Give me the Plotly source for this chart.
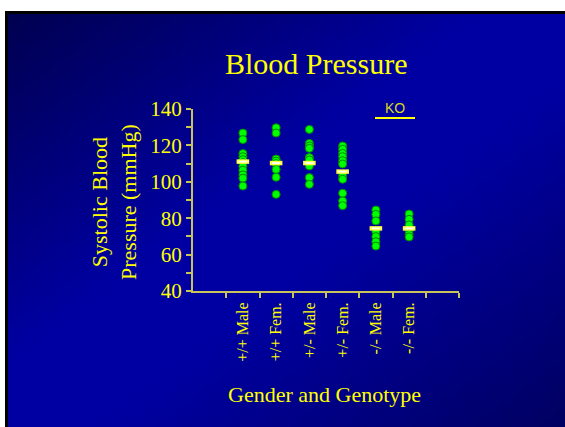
import base64
import struct
import zlib

import plotly.graph_objects as go

# ---- data -------------------------------------------------------------
groups = ["+/+ Male", "+/+ Fem.", "+/- Male", "+/- Fem.", "-/- Male", "-/- Fem."]

pp_male = [126.8, 123.2, 115.5, 113.8, 112.2, 110.5, 108.6, 106.4, 103.8, 102.0, 97.7]
pp_fem = [129.7, 126.8, 112.5, 111.4, 110.0, 106.8, 102.5, 93.1]
pm_male = [128.8, 121.1, 119.7, 118.4, 113.3, 112.0, 108.7, 102.3, 98.6]
pm_fem = [119.7, 117.9, 115.6, 113.8, 111.6, 109.8, 103.2, 101.4, 93.7, 89.5, 86.9]
mm_male = [84.5, 82.1, 78.5, 72.6, 69.9, 67.1, 64.7]
mm_fem = [82.3, 79.4, 76.3, 73.0, 71.1, 69.7]

group_means = [111.1, 110.3, 110.3, 105.6, 74.4, 74.4]

y_ticks = [40, 60, 80, 100, 120, 140]

series = [pp_male, pp_fem, pm_male, pm_fem, mm_male, mm_fem]

W, H = 565, 427
YELLOW = "#ffff00"
AXIS = "#c8c45a"


# ---- slide background: diagonal blue gradient as a small PNG ----------
def gradient_png(w, h):
    rows = []
    for j in range(h):
        v = j / (h - 1)
        row = bytearray([0])
        for i in range(w):
            u = i / (w - 1)
            t = (u + v) / 2
            if t < 0.5:
                b = 82 + (162 - 82) * min(1.0, t / 0.42)
            else:
                b = 98 + (162 - 98) * min(1.0, (1 - t) / 0.42)
            row += bytes([0, 0, int(round(b))])
        rows.append(bytes(row))
    raw = b"".join(rows)

    def chunk(tag, data):
        c = struct.pack(">I", len(data)) + tag + data
        return c + struct.pack(">I", zlib.crc32(tag + data) & 0xFFFFFFFF)

    png = b"\x89PNG\r\n\x1a\n"
    png += chunk(b"IHDR", struct.pack(">IIBBBBB", w, h, 8, 2, 0, 0, 0))
    png += chunk(b"IDAT", zlib.compress(raw, 9))
    png += chunk(b"IEND", b"")
    return "data:image/png;base64," + base64.b64encode(png).decode()


fig = go.Figure()

# individual measurements
for k, vals in enumerate(series):
    fig.add_trace(go.Scatter(
        x=[k + 1] * len(vals), y=vals, mode="markers",
        marker=dict(size=8, color="#00ff00", line=dict(color="#008a00", width=1)),
        showlegend=False, hoverinfo="y",
    ))

# group mean bars: yellow outline with white core
xs = list(range(1, len(groups) + 1))
fig.add_trace(go.Scatter(
    x=xs, y=group_means, mode="markers", showlegend=False,
    marker=dict(symbol="line-ew", size=9, line=dict(color="#ffff40", width=4.5)),
))
fig.add_trace(go.Scatter(
    x=xs, y=group_means, mode="markers", showlegend=False,
    marker=dict(symbol="line-ew", size=6, line=dict(color="#ffffff", width=1.8)),
))

x_left, x_right = 193, 459
y_top, y_bot = 109, 291

fig.update_layout(
    width=W, height=H,
    margin=dict(l=0, r=0, t=0, b=0),
    paper_bgcolor="white",
    plot_bgcolor="rgba(0,0,0,0)",
    showlegend=False,
    font=dict(family="Liberation Serif, serif", color=YELLOW),
    xaxis=dict(
        domain=[x_left / W, x_right / W],
        range=[-0.5, len(groups) + 1.5],
        tickvals=xs, ticktext=groups, tickangle=-90,
        ticks="", showgrid=False, zeroline=False,
        showline=True, linecolor=AXIS, linewidth=2,
        tickfont=dict(size=16, color=YELLOW),
        ticklabelstandoff=3,
        minor=dict(tickvals=[k + 0.5 for k in range(len(groups) + 2)],
                   ticks="outside", ticklen=5, tickcolor=AXIS, tickwidth=1.5),
        automargin=False, fixedrange=True,
    ),
    yaxis=dict(
        domain=[1 - y_bot / H, 1 - y_top / H],
        range=[40, 140],
        tickvals=y_ticks,
        ticks="outside", ticklen=5, tickcolor=AXIS, tickwidth=1.5,
        minor=dict(dtick=10, ticks="outside", ticklen=5, tickcolor=AXIS, tickwidth=1.5),
        showgrid=False, zeroline=False,
        showline=True, linecolor=AXIS, linewidth=2,
        tickfont=dict(size=21, color=YELLOW),
        automargin=False, fixedrange=True,
    ),
    images=[dict(
        source=gradient_png(96, 72), xref="paper", yref="paper",
        x=8 / W, y=1 - 14 / H, sizex=(W - 8) / W, sizey=(H - 14) / H,
        xanchor="left", yanchor="top", sizing="stretch", layer="below",
    )],
    shapes=[
        # black frame strips along the top and left edges
        dict(type="rect", xref="paper", yref="paper", x0=5 / W, x1=1,
             y0=1 - 14 / H, y1=1 - 11 / H, fillcolor="black", line=dict(width=0), layer="below"),
        dict(type="rect", xref="paper", yref="paper", x0=5 / W, x1=8 / W,
             y0=0, y1=1 - 11 / H, fillcolor="black", line=dict(width=0), layer="below"),
        # KO underline
        dict(type="line", xref="paper", yref="paper", x0=375 / W, x1=415 / W,
             y0=1 - 118 / H, y1=1 - 118 / H, line=dict(color=YELLOW, width=2)),
    ],
    annotations=[
        dict(text="Blood Pressure", xref="paper", yref="paper", x=316 / W, y=1 - 64 / H,
             showarrow=False, xanchor="center", yanchor="middle",
             font=dict(size=30, color=YELLOW)),
        dict(text="Systolic Blood<br>Pressure (mmHg)", xref="paper", yref="paper",
             x=114 / W, y=1 - 202 / H, textangle=-90, showarrow=False,
             xanchor="center", yanchor="middle", font=dict(size=22, color=YELLOW)),
        dict(text="Gender and Genotype", xref="paper", yref="paper", x=324 / W, y=1 - 394 / H,
             showarrow=False, xanchor="center", yanchor="middle",
             font=dict(size=22, color=YELLOW)),
        dict(text="KO", xref="paper", yref="paper", x=395 / W, y=1 - 108 / H,
             showarrow=False, xanchor="center", yanchor="middle",
             font=dict(family="Liberation Sans, Arial, sans-serif", size=14, color="#d8d820")),
    ],
)

fig.write_html("out.html")
